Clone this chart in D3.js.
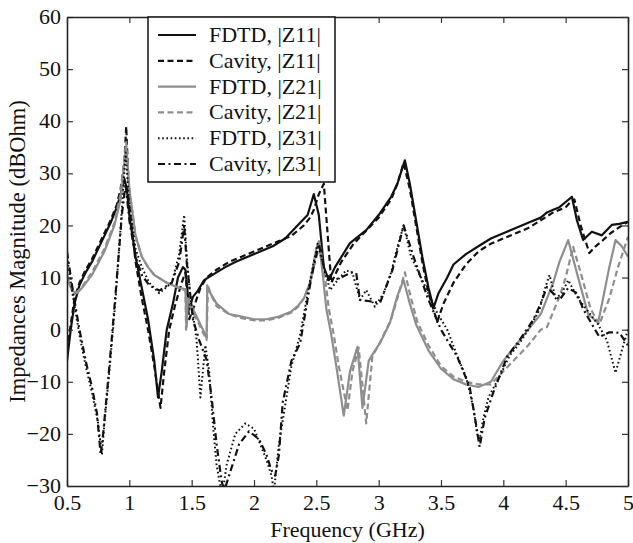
<!DOCTYPE html>
<html><head><meta charset="utf-8">
<script src="https://cdn.jsdelivr.net/npm/d3@7"></script>
<style>body{margin:0;background:#fff}svg{display:block}text{font-family:"Liberation Serif","Times New Roman",serif;fill:#111}</style>
</head><body>
<script>
const xTicks=[0.5,1,1.5,2,2.5,3,3.5,4,4.5,5];
const yTicks=[-30,-20,-10,0,10,20,30,40,50,60];
const legendLabels=["FDTD, |Z11|","Cavity, |Z11|","FDTD, |Z21|","Cavity, |Z21|","FDTD, |Z31|","Cavity, |Z31|"];

const z11FdtdF=[0.5,0.53,0.56,0.6,0.65,0.7,0.75,0.8,0.85,0.9,0.93,0.96,0.98,1.0,1.05,1.1,1.15,1.2,1.23,1.26,1.3,1.35,1.39,1.43,1.45,1.48,1.51,1.55,1.6,1.7,1.77,1.85,1.95,2.05,2.15,2.25,2.37,2.43,2.48,2.52,2.56,2.6,2.65,2.77,2.9,3.0,3.1,3.15,3.21,3.25,3.3,3.35,3.4,3.44,3.48,3.55,3.6,3.7,3.8,3.9,4.0,4.1,4.2,4.3,4.35,4.4,4.45,4.5,4.55,4.59,4.64,4.71,4.79,4.87,4.93,5.0];
const z11FdtdV=[-6,0,5,8.5,11,13,15.5,18,20.5,23.5,26,29,27,22,14,8,2,-6,-13,-8,0,5,10,12,11.5,4,6.3,7.5,9.5,11,12,13,14,15,16,17.5,20.5,22,26,22,12,9.5,12,16.6,19.1,22,25.5,28,32.5,28,21,14,8,4.2,7,10,12.5,14.5,16,17.5,18.5,19.5,20.5,21.5,22.5,23,23.5,24.5,25.5,21,17.2,18.8,18.1,20.1,20.3,20.7];

const z11CavF=[0.5,0.53,0.56,0.6,0.65,0.7,0.75,0.8,0.85,0.9,0.93,0.96,0.975,1.0,1.05,1.1,1.15,1.2,1.25,1.28,1.32,1.37,1.42,1.45,1.48,1.52,1.57,1.62,1.7,1.8,1.9,2.0,2.1,2.2,2.3,2.4,2.45,2.48,2.52,2.56,2.62,2.7,2.8,2.9,3.0,3.1,3.15,3.2,3.25,3.3,3.35,3.4,3.47,3.52,3.6,3.7,3.8,3.9,4.0,4.1,4.2,4.3,4.4,4.5,4.54,4.57,4.62,4.69,4.74,4.8,4.86,4.92,5.0];
const z11CavV=[-4,1,6,9,11.5,13.5,16,18.5,21,24,27,32,39,24,13,6,0,-7,-15,-8,0,5,9,11,2,4.5,8,10,11.5,13,14,15,16,17,18,20,21.5,23,26,28,9,13,16.5,19,21.5,25,28,32,27,20,13,7,1.5,5,9,12.5,15,16.5,17.5,18.5,19.5,21,22.5,23.5,24.5,25,20,14.7,16,17.2,18.5,19.5,20.7];

const z21FdtdF=[0.5,0.54,0.58,0.62,0.7,0.8,0.88,0.93,0.96,0.975,1.0,1.05,1.1,1.15,1.2,1.3,1.4,1.45,1.46,1.47,1.55,1.62,1.625,1.65,1.7,1.8,1.9,2.0,2.1,2.2,2.3,2.35,2.4,2.45,2.5,2.52,2.55,2.58,2.62,2.66,2.72,2.77,2.83,2.87,2.92,2.97,3.01,3.09,3.15,3.2,3.25,3.3,3.4,3.5,3.6,3.7,3.8,3.9,4.0,4.1,4.2,4.3,4.35,4.4,4.45,4.52,4.6,4.68,4.76,4.8,4.85,4.9,4.95,5.0];
const z21FdtdV=[10,7.5,7,8,10.5,15,20,25,32,35,27,18,14,12,10.5,9,8,7.8,0.5,6,2,-1.5,8.5,7,5,3,2.5,2,2,2.5,3.5,4.5,6,9,15.5,17,11,4,-1,-7,-16.5,-8,-3.3,-15,-6,-4,-2.6,1.3,6.5,9.5,5,1,-4,-7.5,-9.5,-10.5,-11,-10,-6,-3,0,3,6,9,13,17.2,10,3,1.3,6,12,17.2,16,14];

const z21CavF=[0.5,0.54,0.58,0.62,0.7,0.8,0.88,0.93,0.96,0.975,1.0,1.05,1.1,1.15,1.2,1.3,1.4,1.45,1.455,1.465,1.55,1.62,1.63,1.65,1.7,1.8,1.9,2.0,2.1,2.2,2.3,2.35,2.4,2.45,2.5,2.53,2.57,2.6,2.64,2.68,2.75,2.79,2.84,2.9,2.95,3.0,3.1,3.15,3.21,3.26,3.31,3.4,3.5,3.6,3.7,3.8,3.9,4.0,4.1,4.2,4.3,4.35,4.45,4.5,4.56,4.62,4.7,4.77,4.85,4.92,5.0];
const z21CavV=[10.5,8,7.2,8.2,11,15.5,20.5,26,33,36,27,18,14,12,10.5,9,8,7.5,0,5.5,1.5,-2,8.5,7,4.5,3,2.2,1.8,1.8,2.3,3.3,4.3,6,9,14,16,10,4,-1,-7,-15.5,-8,-3.5,-18,-5,-3,2,6,11,6,1.5,-3,-7,-9,-10,-10.5,-10.5,-8,-5.5,-3,0,0.5,6.3,10,15.9,11,4,1,6,12,17.8];

const z31FdtdF=[0.5,0.55,0.6,0.65,0.7,0.75,0.78,0.8,0.84,0.89,0.94,0.97,1.0,1.05,1.1,1.16,1.24,1.34,1.4,1.44,1.46,1.49,1.54,1.57,1.61,1.64,1.67,1.7,1.73,1.75,1.78,1.85,1.93,2.0,2.05,2.1,2.14,2.16,2.2,2.3,2.37,2.45,2.51,2.56,2.61,2.67,2.74,2.79,2.85,2.9,2.97,3.04,3.1,3.15,3.2,3.26,3.36,3.47,3.55,3.63,3.7,3.76,3.79,3.81,3.84,3.88,3.97,4.05,4.13,4.2,4.29,4.33,4.37,4.42,4.47,4.52,4.6,4.69,4.76,4.83,4.9,4.95,5.0];
const z31FdtdV=[14,6,-1,-7,-12,-18,-24,-18,-8,6,23,34,24,15.5,12,9,7,9,14.5,22,14,6.3,-2,-13,-3,-8,-18,-26,-30,-31,-26,-20,-18,-19,-22,-25,-28,-31,-22,-7,-1,9.5,16.5,12,7.6,9.5,11.4,10.9,5.7,7.6,4.4,7,11,15.8,20,14,9,3.2,0,-5,-9,-15,-20,-21,-17,-13,-9,-5,-2.6,0,3.8,7.6,10.5,6,7,9.5,6,3.2,1,-2,-8.3,-4,0];

const z31CavF=[0.5,0.55,0.6,0.65,0.7,0.74,0.77,0.79,0.84,0.89,0.94,0.97,1.0,1.05,1.1,1.16,1.24,1.34,1.4,1.44,1.46,1.51,1.56,1.62,1.66,1.7,1.74,1.76,1.8,1.88,1.96,2.04,2.1,2.14,2.17,2.2,2.23,2.3,2.37,2.46,2.52,2.57,2.63,2.7,2.78,2.82,2.85,2.92,3.01,3.11,3.2,3.28,3.39,3.5,3.63,3.73,3.78,3.81,3.85,3.92,4.03,4.13,4.24,4.3,4.35,4.45,4.52,4.59,4.64,4.69,4.77,4.85,4.93,5.0];
const z31CavV=[15,7,0,-6,-11,-16,-24,-20,-7,7,22,28,21,14,10.5,8.5,7.5,9,13,20,13,2,-2,-5.8,-13,-22,-29,-31,-28,-22,-19.5,-21,-24,-27,-28,-24,-14,-6,-2.6,10,16.5,11,9.5,10,11,10.9,5.7,5.5,5.1,11.4,20,14,6.3,0,-5.2,-11,-18,-22.5,-17,-12,-5.2,-2,1.9,5,8.2,5.7,8,7,4,1.9,-1.4,-0.5,-0.6,-3];

const W=633,H=543,m={l:67,r:5,t:17,b:57};
const svg=d3.select("body").append("svg").attr("width",W).attr("height",H);
const x=d3.scaleLinear().domain([0.5,5]).range([m.l,W-m.r]);
const y=d3.scaleLinear().domain([-30,60]).range([H-m.b,m.t]);
svg.append("defs").append("clipPath").attr("id","clip").append("rect").attr("x",m.l).attr("y",m.t).attr("width",W-m.r-m.l).attr("height",H-m.b-m.t);

const series=[
 {f:z11FdtdF,v:z11FdtdV,c:"#111",d:null,w:2.2},
 {f:z11CavF,v:z11CavV,c:"#111",d:"6,3.5",w:2.2},
 {f:z21FdtdF,v:z21FdtdV,c:"#8e8e8e",d:null,w:2.2},
 {f:z21CavF,v:z21CavV,c:"#8e8e8e",d:"6,3.5",w:2.2},
 {f:z31FdtdF,v:z31FdtdV,c:"#111",d:"1.6,2.6",w:2},
 {f:z31CavF,v:z31CavV,c:"#111",d:"7,3.5,2,3.5",w:2.2}
];
const line=d3.line().x(d=>x(d[0])).y(d=>y(d[1]));
const g=svg.append("g").attr("clip-path","url(#clip)");
series.forEach(s=>{
  g.append("path").datum(s.f.map((f,i)=>[f,s.v[i]])).attr("d",line)
   .attr("fill","none").attr("stroke",s.c).attr("stroke-width",s.w)
   .attr("stroke-dasharray",s.d).attr("stroke-linejoin","round");
});

const fs=22;
const ax=svg.append("g").attr("transform",`translate(0,${H-m.b})`).call(d3.axisBottom(x).tickValues(xTicks).tickSizeInner(-6).tickSizeOuter(0).tickPadding(14).tickFormat(d=>d));
const ay=svg.append("g").attr("transform",`translate(${m.l},0)`).call(d3.axisLeft(y).tickValues(yTicks).tickSizeInner(-6).tickSizeOuter(0).tickPadding(5));
const at=svg.append("g").attr("transform",`translate(0,${m.t})`).call(d3.axisTop(x).tickValues(xTicks).tickSizeInner(-6).tickSizeOuter(0).tickFormat(""));
const ar=svg.append("g").attr("transform",`translate(${W-m.r},0)`).call(d3.axisRight(y).tickValues(yTicks).tickSizeInner(-6).tickSizeOuter(0).tickFormat(""));
[ax,ay,at,ar].forEach(a=>{a.selectAll(".domain").attr("stroke","#222").attr("stroke-width",1.6);a.selectAll(".tick line").attr("stroke","#333").attr("stroke-width",1.2);a.selectAll("text").style("font-size",fs+"px").style("font-family",'"Liberation Serif",serif').attr("fill","#111");});
ax.selectAll("text").attr("dy","0.45em");
ay.selectAll("text").attr("dx","-1").attr("dy","0.3em");

svg.append("text").attr("x",(m.l+W-m.r)/2).attr("y",537).attr("text-anchor","middle").style("font-size",fs+"px").text("Frequency (GHz)");
svg.append("text").attr("transform",`translate(25,${(m.t+H-m.b)/2}) rotate(-90)`).attr("text-anchor","middle").style("font-size","22.5px").text("Impedances Magnitude (dBOhm)");

const lg=svg.append("g");
lg.append("rect").attr("x",148).attr("y",m.t).attr("width",187).attr("height",165).attr("fill","#fff").attr("stroke","#111").attr("stroke-width",1.5);
legendLabels.forEach((t,i)=>{
  const yy=35+i*25.8, s=series[i];
  lg.append("line").attr("x1",158).attr("x2",196).attr("y1",yy).attr("y2",yy).attr("stroke",s.c).attr("stroke-width",s.w).attr("stroke-dasharray",s.d);
  lg.append("text").attr("x",209).attr("y",yy+7).style("font-size",fs+"px").text(t);
});
</script>
</body></html>
